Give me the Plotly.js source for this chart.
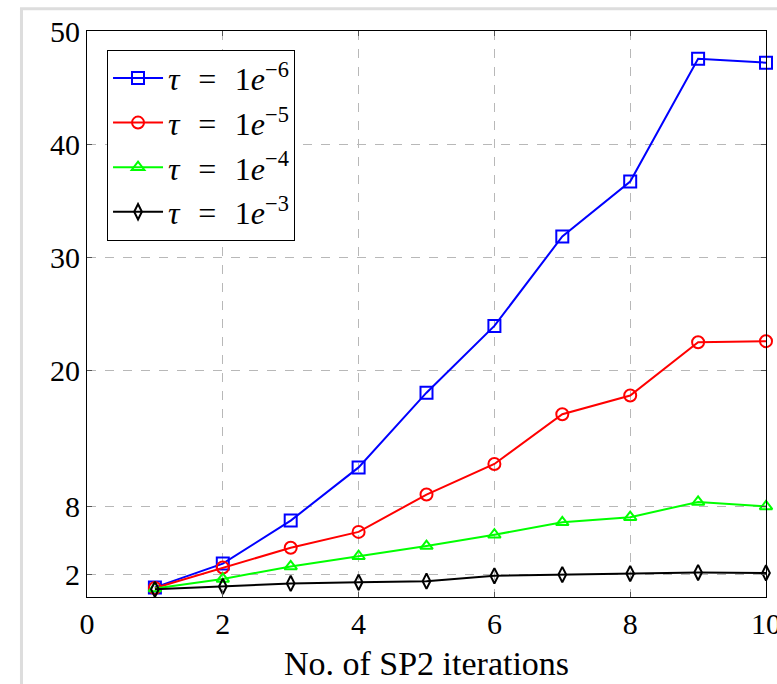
<!DOCTYPE html>
<html>
<head>
<meta charset="utf-8">
<script src="https://cdn.plot.ly/plotly-3.0.1.min.js"></script>
<style>html,body{margin:0;padding:0;background:#fff;overflow:hidden;}#chart{width:777px;height:684px;}</style>
</head>
<body>
<div id="chart"></div>
<script>
const iterations = [1, 2, 3, 4, 5, 6, 7, 8, 9, 10];
const tau1e6 = [0.85, 2.95, 6.75, 11.45, 18.05, 23.95, 31.85, 36.7, 47.55, 47.2];
const tau1e5 = [0.8, 2.6, 4.35, 5.75, 9.05, 11.75, 16.15, 17.8, 22.5, 22.6];
const tau1e4 = [0.75, 1.6, 2.7, 3.6, 4.5, 5.5, 6.6, 7.05, 8.4, 8.0];
const tau1e3 = [0.68, 0.93, 1.2, 1.3, 1.4, 1.87, 1.98, 2.07, 2.16, 2.13];
const gap = "\u2002\u200A";
const seriesNames = [
  "<i>τ</i>" + gap + "=" + gap + "1<i>e</i><sup>−6</sup>",
  "<i>τ</i>" + gap + "=" + gap + "1<i>e</i><sup>−5</sup>",
  "<i>τ</i>" + gap + "=" + gap + "1<i>e</i><sup>−4</sup>",
  "<i>τ</i>" + gap + "=" + gap + "1<i>e</i><sup>−3</sup>"
];
const xTicks = [0, 2, 4, 6, 8, 10];
const yTicks = [2, 8, 20, 30, 40, 50];

const font = "Liberation Serif, Times New Roman, serif";
function tr(y, name, color, symbol, size) {
  return {
    x: iterations, y: y, name: name, type: 'scatter', mode: 'lines+markers',
    line: {color: color, width: 2},
    marker: {symbol: symbol, size: size, color: color, line: {color: color, width: 2}},
    cliponaxis: false
  };
}
const data = [
  tr(tau1e6, seriesNames[0], '#0000ff', 'square-open', 12),
  tr(tau1e5, seriesNames[1], '#ff0000', 'circle-open', 12),
  tr(tau1e4, seriesNames[2], '#00ff00', 'triangle-up-open', 11),
  tr(tau1e3, seriesNames[3], '#000000', 'diamond-tall-open', 11)
];
const layout = {
  width: 777, height: 684,
  margin: {l: 87, r: 11, t: 30.5, b: 86.5},
  paper_bgcolor: '#fff', plot_bgcolor: '#fff',
  font: {family: font, size: 30, color: '#000'},
  showlegend: true,
  legend: {
    x: 0.0295, y: 0.967, xanchor: 'left', yanchor: 'top',
    bgcolor: '#fff', bordercolor: '#000', borderwidth: 1,
    font: {family: font, size: 32, color: '#000'},
    itemwidth: 50,
    tracegroupgap: 0
  },
  xaxis: {
    range: [0, 10], tickvals: xTicks, ticktext: xTicks.map(String),
    ticklabeloverflow: 'allow',
    showgrid: true, gridcolor: '#b8b8b8', griddash: 'dash', gridwidth: 1,
    zeroline: false, showline: true, linecolor: '#000', linewidth: 1, mirror: 'allticks',
    ticks: 'inside', ticklen: 5, tickcolor: '#555',
    tickfont: {family: font, size: 30},
    title: {text: 'No. of SP2 iterations', font: {family: font, size: 34}, standoff: 12},
    automargin: false
  },
  yaxis: {
    range: [0, 50], tickvals: yTicks, ticktext: yTicks.map(String),
    showgrid: true, gridcolor: '#b8b8b8', griddash: 'dash', gridwidth: 1,
    zeroline: false, showline: true, linecolor: '#000', linewidth: 1, mirror: 'allticks',
    ticks: 'inside', ticklen: 5, tickcolor: '#555',
    tickfont: {family: font, size: 30},
    automargin: false
  },
  shapes: [{
    type: 'rect', xref: 'paper', yref: 'paper',
    x0: -0.0965, x1: 1.3, y0: -0.4, y1: 1.0395,
    line: {color: '#dddddd', width: 3}, fillcolor: 'rgba(0,0,0,0)', layer: 'below'
  }]
};
Plotly.newPlot('chart', data, layout, {displayModeBar: false, staticPlot: true});
</script>
</body>
</html>
